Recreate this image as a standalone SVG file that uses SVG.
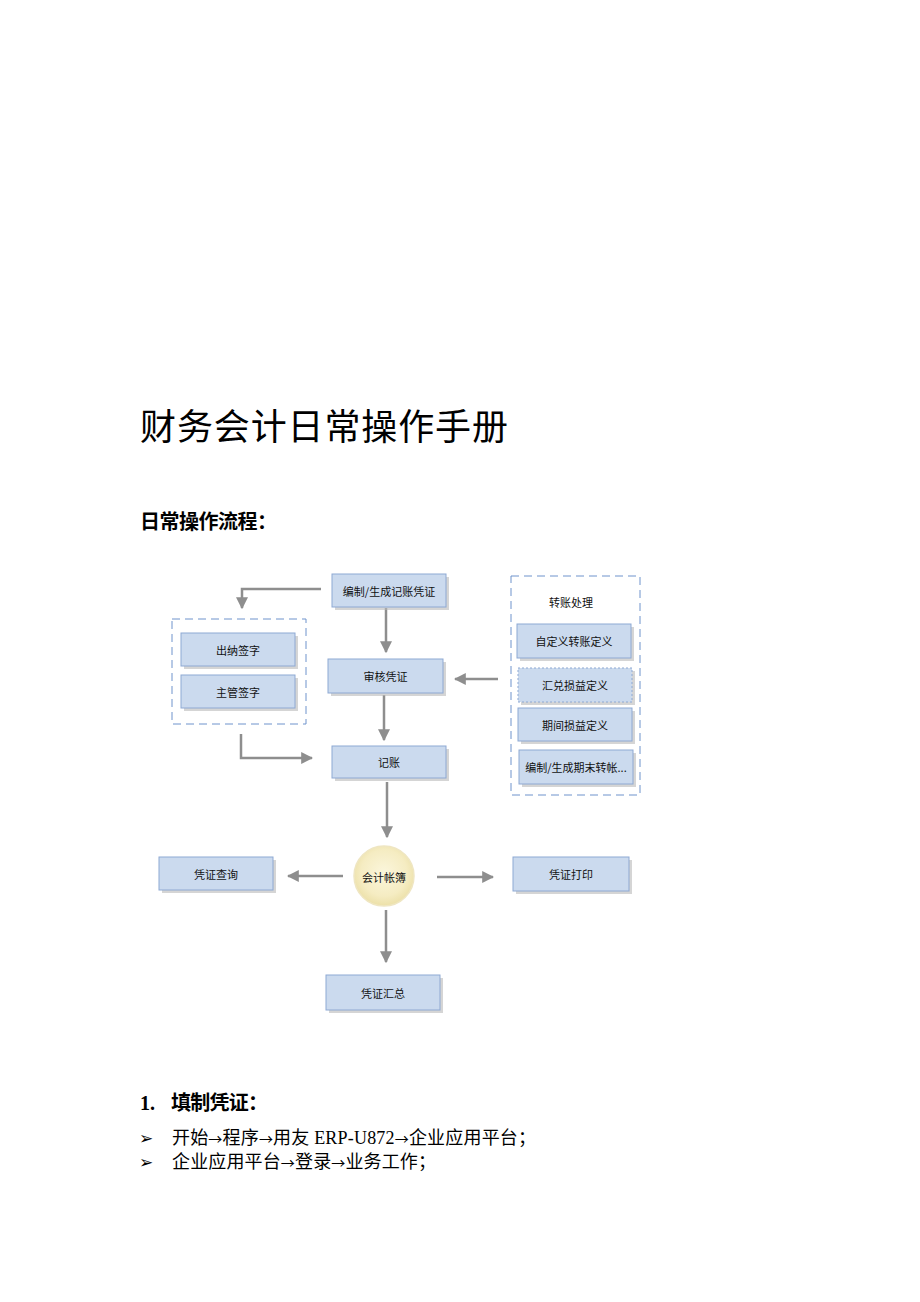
<svg xmlns="http://www.w3.org/2000/svg" width="920" height="1302" viewBox="0 0 920 1302">
<style>
.box{fill:#cbdaee;stroke:#8ea9d3;stroke-width:1}
.shd{fill:#b9b9b9;opacity:0.6}
.lbl{font-family:"Noto Sans CJK SC",sans-serif;font-size:11px;fill:#111;text-anchor:middle;dominant-baseline:central}
.grp{fill:none;stroke:#6f93cc;stroke-width:1;stroke-dasharray:8,5}
.con{fill:none;stroke:#8e8e8e;stroke-width:2.5}
.doc{font-family:"Liberation Serif","Noto Sans CJK SC",serif;fill:#000}
.arr{font-family:"Noto Sans CJK SC",sans-serif}
.bul{font-family:"DejaVu Sans",sans-serif;font-size:17px;fill:#000}
</style>
<defs>
<marker id="ah" markerUnits="userSpaceOnUse" markerWidth="12" markerHeight="12" refX="9" refY="5" orient="auto" viewBox="0 0 10 10">
<path d="M0,0 L10,5 L0,10 z" fill="#8e8e8e"/>
</marker>
<radialGradient id="cg" cx="50%" cy="45%" r="55%">
<stop offset="0" stop-color="#fbf6dc"/>
<stop offset="0.7" stop-color="#f5ecc2"/>
<stop offset="1" stop-color="#ece0a8"/>
</radialGradient>
</defs>
<rect width="920" height="1302" fill="#fff"/>

<text class="doc" x="140" y="440" font-size="36" textLength="368">财务会计日常操作手册</text>
<text class="doc" x="140" y="529" font-size="20" font-weight="bold" textLength="137">日常操作流程：</text>

<g id="connectors">
<path class="con" d="M321,589 H242 V608" marker-end="url(#ah)"/>
<path class="con" d="M386,608 V652" marker-end="url(#ah)"/>
<path class="con" d="M384,695 V740" marker-end="url(#ah)"/>
<path class="con" d="M498,679 H455" marker-end="url(#ah)"/>
<path class="con" d="M241,734 V758 H312" marker-end="url(#ah)"/>
<path class="con" d="M387,782 V837" marker-end="url(#ah)"/>
<path class="con" d="M343,876 H288" marker-end="url(#ah)"/>
<path class="con" d="M437,877 H493" marker-end="url(#ah)"/>
<path class="con" d="M386,910 V962" marker-end="url(#ah)"/>
</g>

<g id="n_bianzhi">
<rect class="shd" x="335" y="577" width="114" height="33"/>
<rect class="box" x="332" y="574" width="114" height="33"/>
<text class="lbl" x="389" y="590.5">编制/生成记账凭证</text>
</g>

<g id="g_sign">
<rect class="grp" x="172" y="619" width="134" height="105"/>
</g>
<g id="n_chuna">
<rect class="shd" x="184" y="636" width="114" height="33"/>
<rect class="box" x="181" y="633" width="114" height="33"/>
<text class="lbl" x="238" y="649.5">出纳签字</text>
</g>
<g id="n_zhuguan">
<rect class="shd" x="184" y="678" width="114" height="33"/>
<rect class="box" x="181" y="675" width="114" height="33"/>
<text class="lbl" x="238" y="691.5">主管签字</text>
</g>

<g id="n_shenhe">
<rect class="shd" x="331" y="662" width="115" height="34"/>
<rect class="box" x="328" y="659" width="115" height="34"/>
<text class="lbl" x="385.5" y="676">审核凭证</text>
</g>

<g id="n_jizhang">
<rect class="shd" x="335" y="749" width="114" height="32"/>
<rect class="box" x="332" y="746" width="114" height="32"/>
<text class="lbl" x="389" y="762">记账</text>
</g>

<g id="g_transfer">
<rect class="grp" x="511" y="576" width="129" height="219"/>
<text class="lbl" x="571" y="602">转账处理</text>
</g>
<g id="n_zidingyi">
<rect class="shd" x="520" y="627" width="114" height="34"/>
<rect class="box" x="517" y="624" width="114" height="34"/>
<text class="lbl" x="574" y="641">自定义转账定义</text>
</g>
<g id="n_huidui">
<rect class="shd" x="521" y="671" width="114" height="34"/>
<rect class="box" x="518" y="668" width="114" height="34" stroke-dasharray="2,2"/>
<text class="lbl" x="575" y="685">汇兑损益定义</text>
</g>
<g id="n_qijian">
<rect class="shd" x="521" y="711" width="114" height="33"/>
<rect class="box" x="518" y="708" width="114" height="33"/>
<text class="lbl" x="575" y="724.5">期间损益定义</text>
</g>
<g id="n_qimo">
<rect class="shd" x="522" y="753" width="114" height="34"/>
<rect class="box" x="519" y="750" width="114" height="34"/>
<text class="lbl" x="576" y="767">编制/生成期末转帐...</text>
</g>

<g id="n_zhangbu">
<circle cx="384" cy="876" r="30" fill="url(#cg)" stroke="#efe6c2" stroke-width="1.5"/>
<text class="lbl" x="384" y="877">会计帐簿</text>
</g>

<g id="n_chaxun">
<rect class="shd" x="162" y="860" width="114" height="33"/>
<rect class="box" x="159" y="857" width="114" height="33"/>
<text class="lbl" x="216" y="873.5">凭证查询</text>
</g>
<g id="n_dayin">
<rect class="shd" x="516" y="860" width="116" height="34"/>
<rect class="box" x="513" y="857" width="116" height="34"/>
<text class="lbl" x="571" y="874">凭证打印</text>
</g>
<g id="n_huizong">
<rect class="shd" x="329" y="978" width="114" height="35"/>
<rect class="box" x="326" y="975" width="114" height="35"/>
<text class="lbl" x="383" y="992.5">凭证汇总</text>
</g>

<text class="doc" x="140" y="1110" font-size="20" font-weight="bold">1.</text>
<text class="doc" x="171" y="1110" font-size="20" font-weight="bold" textLength="97">填制凭证：</text>
<text class="bul" x="139" y="1144">➢</text>
<text class="doc" x="172" y="1144" font-size="18" textLength="364">开始<tspan class="arr" font-size="14">→</tspan>程序<tspan class="arr" font-size="14">→</tspan>用友 ERP-U872<tspan class="arr" font-size="14">→</tspan>企业应用平台；</text>
<text class="bul" x="139" y="1168">➢</text>
<text class="doc" x="172" y="1168" font-size="18" textLength="264">企业应用平台<tspan class="arr" font-size="14">→</tspan>登录<tspan class="arr" font-size="14">→</tspan>业务工作；</text>
</svg>
